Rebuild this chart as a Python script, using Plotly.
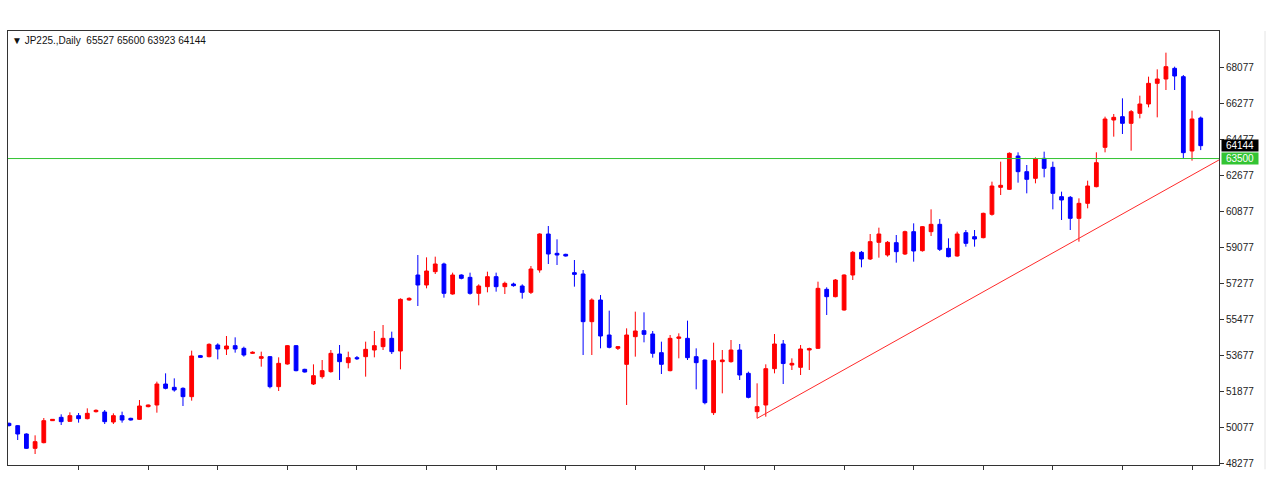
import plotly.graph_objects as go

# ---- data (JP225 daily) ----
opens = [50260, 50144, 49727, 49010, 49294, 50394, 50560, 50360, 50644, 50494,
         50844, 50827, 50327, 50644, 50510, 50460, 51094, 51177, 52227, 52060,
         52010, 51594, 53644, 53594, 54177, 53977, 54144, 54010, 53760, 53510,
         53594, 52094, 53227, 54144, 52960, 52227, 52594, 52844, 53727, 53294,
         53544, 53594, 53927, 54094, 54510, 53877, 56427, 57677, 57177, 57844,
         58227, 56727, 57677, 57560, 56760, 57094, 57594, 57094, 57227, 57127,
         56810, 57927, 59727, 58760, 58710, 57794, 57727, 55344, 56427, 54677,
         54010, 53210, 54594, 54894, 54727, 53794, 52894, 54510, 54510, 53594,
         53427, 50794, 53344, 53344, 53927, 52760, 50844, 51177, 52994, 54227,
         53177, 53060, 53927, 54010, 56960, 56594, 55927, 57677, 58810, 58477,
         59310, 58677, 59294, 58727, 59844, 58894, 59844, 60210, 59010, 58627,
         59794, 59594, 59544, 60710, 62060, 61960, 63627, 62844, 62510, 63510,
         63060, 61594, 61560, 60510, 61260, 62094, 64060, 65427, 65594, 65260,
         65760, 66227, 67260, 67477, 68010, 67594, 63877, 65527]
highs = [50300, 50177, 49760, 49660, 50527, 50477, 50710, 50810, 50777, 51010,
         50960, 50927, 50760, 50844, 50540, 51427, 51200, 52344, 52760, 52510,
         52060, 53894, 53680, 54260, 54260, 54627, 54560, 54094, 53860, 53844,
         53627, 53560, 54177, 54177, 52990, 53210, 53427, 53927, 54177, 53844,
         53627, 54344, 54877, 55177, 54844, 56510, 56560, 58677, 58560, 58594,
         58294, 57794, 57710, 57794, 57210, 57844, 57794, 57344, 57294, 57210,
         58127, 59760, 60127, 59460, 58740, 58427, 57927, 56510, 56677, 55894,
         54127, 55010, 55844, 55810, 54877, 54344, 54677, 54760, 55394, 54010,
         53460, 54294, 53927, 54427, 54227, 52844, 52260, 53210, 54727, 54427,
         53510, 54177, 54044, 57344, 57060, 57477, 57710, 58877, 58877, 59727,
         60044, 59377, 59677, 59894, 60260, 60127, 60960, 60477, 59510, 59844,
         59927, 59927, 60794, 62344, 63344, 63810, 63810, 63177, 63560, 63844,
         63344, 61844, 61627, 61510, 62394, 63810, 65594, 65727, 66510, 65927,
         66644, 67594, 67960, 68794, 68094, 67677, 65894, 65600]
lows = [50100, 49427, 48977, 48727, 49260, 50380, 50177, 50344, 50294, 50460,
        50800, 50227, 50227, 50294, 50400, 50427, 51060, 50794, 51960, 51844,
        51127, 51394, 53540, 53560, 53460, 53677, 53794, 53594, 53727, 53094,
        52010, 51877, 53194, 52860, 52800, 52177, 52494, 52794, 52427, 53010,
        53427, 52594, 53560, 53927, 53727, 52960, 56394, 56127, 57010, 57727,
        56544, 56694, 57460, 56694, 56160, 56810, 56844, 56727, 57094, 56494,
        56727, 57794, 58227, 58177, 58600, 57094, 53677, 53677, 54010, 54010,
        53927, 51177, 53594, 54310, 53544, 52727, 52860, 53510, 53427, 51960,
        51210, 50677, 51760, 53294, 52427, 51510, 50510, 50594, 52760, 52227,
        52927, 52677, 52927, 53977, 55677, 56560, 55894, 57427, 58060, 58427,
        58544, 58594, 58294, 58677, 58344, 58844, 59627, 58877, 58560, 58594,
        59094, 59094, 59510, 60644, 61677, 61927, 62294, 61760, 62260, 62560,
        60960, 60427, 59927, 59344, 61010, 62060, 63810, 64594, 64727, 63894,
        65510, 66060, 65560, 66927, 66927, 63510, 63394, 63923]
closes = [50150, 49727, 49010, 49344, 50394, 50460, 50344, 50644, 50494, 50760,
          50910, 50344, 50644, 50427, 50427, 51127, 51177, 52227, 52010, 51927,
          51594, 53627, 53560, 54210, 53977, 54127, 53977, 53677, 53810, 53594,
          52094, 53260, 54144, 52894, 52827, 52644, 52894, 53760, 53344, 53544,
          53494, 53960, 54144, 54510, 53844, 56460, 56510, 57177, 57877, 58227,
          56760, 57677, 57510, 56760, 57127, 57594, 57094, 57260, 57144, 56810,
          57977, 59727, 58727, 58677, 58627, 57710, 55344, 56427, 54627, 54060,
          54094, 54677, 54877, 54710, 53760, 53210, 54510, 54577, 53544, 53294,
          51294, 53394, 53427, 53927, 52677, 51560, 51094, 52994, 54227, 53250,
          53260, 53977, 53994, 57010, 56594, 57427, 57677, 58810, 58477, 59344,
          59727, 59310, 58844, 59844, 58877, 60094, 60210, 58960, 58594, 59727,
          59260, 59477, 60760, 62127, 62160, 63760, 62844, 62460, 63477, 63010,
          61760, 61427, 60510, 61260, 62127, 63294, 65477, 65560, 65260, 65844,
          66227, 67260, 67477, 68094, 67627, 63794, 65477, 64144]
bars = list(range(len(opens)))

price_ticks = [48277, 50077, 51877, 53677, 55477, 57277, 59077, 60877, 62677, 64477, 66277, 68077]
time_ticks = list(range(8, 137, 8))

level_price = 63500
last_price = 64144
trend_x = [86, 139.1]
trend_y = [50510, 63430]

header = "\u25BC JP225.,Daily  65527 65600 63923 64144"

# ---- figure ----
fig = go.Figure()
fig.add_trace(go.Candlestick(
    x=bars, open=opens, high=highs, low=lows, close=closes,
    increasing=dict(line=dict(color="#ff0000", width=1), fillcolor="#ff0000"),
    decreasing=dict(line=dict(color="#0000ff", width=1), fillcolor="#0000ff"),
    whiskerwidth=0, hoverinfo="skip", showlegend=False,
))
fig.add_trace(go.Scatter(
    x=trend_x, y=trend_y, mode="lines",
    line=dict(color="#ff2a2a", width=1), hoverinfo="skip", showlegend=False,
))

fig.add_hline(y=level_price, line=dict(color="#33c433", width=1))

fig.update_layout(
    width=1274, height=500,
    margin=dict(l=8, r=55, t=31, b=35),
    paper_bgcolor="white", plot_bgcolor="white",
    boxgap=0.38,
    font=dict(family="Liberation Sans, Arial, sans-serif", size=10, color="black"),
    showlegend=False,
)
fig.update_xaxes(
    range=[-0.115, 139.1], rangeslider=dict(visible=False),
    showgrid=False, zeroline=False,
    showline=True, linecolor="#333333", linewidth=1, mirror=True,
    tickmode="array", tickvals=time_ticks, ticktext=["" for _ in time_ticks],
    ticks="outside", ticklen=4, tickcolor="#333333", tickwidth=1,
)
fig.update_yaxes(
    range=[48177, 69877], side="right",
    showgrid=False, zeroline=False,
    showline=True, linecolor="#333333", linewidth=1, mirror=True,
    tickmode="array", tickvals=price_ticks, ticktext=[str(v) for v in price_ticks],
    ticks="outside", ticklen=4, tickcolor="#333333", tickwidth=1,
    tickfont=dict(size=10, color="#222222"),
)

fig.add_annotation(
    text=header, xref="paper", yref="paper", x=0.002, y=0.979,
    xanchor="left", yanchor="middle", showarrow=False,
    font=dict(size=10, color="#111111"),
)
fig.add_annotation(
    text=str(last_price), xref="paper", yref="y", x=1, y=last_price,
    xanchor="left", yanchor="middle", xshift=2, showarrow=False,
    width=36, height=11, align="center",
    bgcolor="#000000", borderpad=0, font=dict(size=10, color="white"),
)
fig.add_annotation(
    text=str(level_price), xref="paper", yref="y", x=1, y=level_price,
    xanchor="left", yanchor="middle", xshift=2, showarrow=False,
    width=36, height=11, align="center",
    bgcolor="#33c433", borderpad=0, font=dict(size=10, color="white"),
)
fig.add_shape(
    type="line", xref="paper", yref="paper", x0=1.038, x1=1.038, y0=-0.01, y1=1.0,
    line=dict(color="#e4e4e4", width=1),
)

fig.write_html("out.html")
